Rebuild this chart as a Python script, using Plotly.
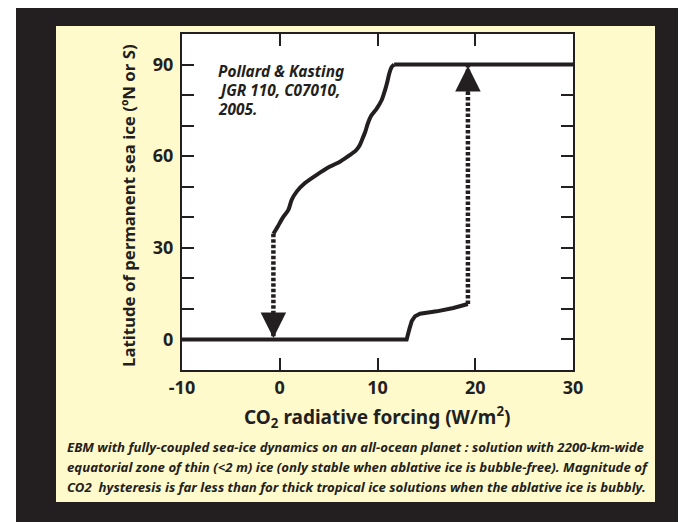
import plotly.graph_objects as go

# ---------------- data ----------------
upper_x = [-0.65, -0.2, 0.3, 0.88, 1.22, 1.73, 2.58, 3.78, 5.14, 6.16, 7.19, 7.8,
           8.15, 8.45, 8.75, 9.0, 9.35, 9.92, 10.43, 10.77, 11.0, 11.2, 11.45, 11.7, 30.0]
upper_y = [34.6, 37.0, 39.8, 42.4, 45.7, 48.4, 51.2, 53.9, 56.6, 58.2, 60.4, 61.9,
           63.4, 65.6, 68.0, 70.6, 73.2, 75.6, 78.4, 81.6, 84.3, 87.0, 89.2, 90.0, 90.0]

lower_x = [-10.0, 12.98, 13.25, 13.5, 13.84, 14.35, 16.05, 17.76, 19.25]
lower_y = [0.0, 0.0, 3.3, 6.0, 7.6, 8.4, 9.2, 10.3, 11.6]

drop_x = [-0.65, -0.65]      # freeze-over jump (downward)
drop_y = [34.6, 0.5]
rise_x = [19.25, 19.25]      # deglaciation jump (upward)
rise_y = [11.6, 89.5]

x_ticks = [-10, 0, 10, 20, 30]
x_ticklabels = ["-10", "0", "10", "20", "30"]
y_ticks = [0, 30, 60, 90]
y_ticklabels = ["0", "30", "60", "90"]
y_minor_step = 10

x_title = "CO<sub>2</sub> radiative forcing (W/m<sup>2</sup>)"
y_title = "Latitude of permanent sea ice (ºN or S)"
citation_lines = ["Pollard &amp; Kasting", "JGR 110, C07010,", "2005."]
caption_lines = [
    "EBM with fully-coupled sea-ice dynamics on an all-ocean planet : solution with 2200-km-wide",
    "equatorial zone of thin (&lt;2 m) ice (only stable when ablative ice is bubble-free). Magnitude of",
    "CO2  hysteresis is far less than for thick tropical ice solutions when the ablative ice is bubbly.",
]

# ---------------- style ----------------
OX, OY = 8, 8                 # page margin of the html body
W, H = 686 - OX, 522 - OY
L, R, T, B = 182, 573, 34, 370  # plot frame in window pixels
INK = "#231f20"
YELLOW = "#fffacc"
FONT = "Noto Sans"


def px(xp):
    return (xp - L) / (R - L)


def py(yp):
    return (B - yp) / (B - T)


fig = go.Figure()
fig.add_trace(go.Scatter(x=lower_x, y=lower_y, mode="lines",
                         line=dict(color=INK, width=4), hoverinfo="skip"))
# curved part of the upper (ice-covered) branch
fig.add_trace(go.Scatter(x=upper_x[:-1], y=upper_y[:-1], mode="lines",
                         line=dict(color=INK, width=4, shape="spline", smoothing=0.7),
                         hoverinfo="skip"))
# flat, ice-free part of the upper branch
fig.add_trace(go.Scatter(x=upper_x[-2:], y=upper_y[-2:], mode="lines",
                         line=dict(color=INK, width=4), hoverinfo="skip"))
for xs, ys in [(drop_x, drop_y), (rise_x, rise_y)]:
    fig.add_trace(go.Scatter(x=xs, y=ys, mode="lines",
                             line=dict(color=INK, width=4.5, dash="3.5px,2px"),
                             hoverinfo="skip"))

# arrow heads
for xs, ys in [(drop_x, drop_y), (rise_x, rise_y)]:
    direction = 1 if ys[-1] > ys[0] else -1
    fig.add_annotation(x=xs[-1], y=ys[-1], xref="x", yref="y", text="",
                       showarrow=True, arrowhead=2, arrowsize=1.7, arrowwidth=3,
                       arrowcolor=INK, ax=0, ay=28 * direction, standoff=0)

shapes = [
    dict(type="rect", xref="paper", yref="paper", x0=px(16), x1=px(720), y0=py(560), y1=py(-20),
         fillcolor=INK, line=dict(width=0), layer="below"),
    dict(type="rect", xref="paper", yref="paper", x0=px(56), x1=px(655), y0=py(502), y1=py(26),
         fillcolor=YELLOW, line=dict(width=0), layer="below"),
    dict(type="rect", xref="paper", yref="paper", x0=0, x1=1, y0=0, y1=1,
         fillcolor="white", line=dict(width=0), layer="below"),
]

annotations = []
annotations.append(dict(text=x_title, xref="paper", yref="paper", x=px(377), y=py(417),
                        xanchor="center", yanchor="middle", showarrow=False,
                        font=dict(family=FONT, size=19, color=INK, weight="bold")))
annotations.append(dict(text=y_title, xref="paper", yref="paper", x=px(128), y=py(206),
                        xanchor="center", yanchor="middle", showarrow=False, textangle=-90,
                        font=dict(family=FONT, size=16.8, color=INK, weight="bold")))
for i, line in enumerate(citation_lines):
    annotations.append(dict(text=line, xref="paper", yref="paper", x=px(216), y=py(71 + 19.5 * i),
                            xanchor="left", yanchor="middle", showarrow=False,
                            font=dict(family=FONT, size=15.4, color=INK, weight="bold",
                                      style="italic")))
for i, line in enumerate(caption_lines):
    annotations.append(dict(text=line, xref="paper", yref="paper", x=px(65), y=py(446.5 + 20 * i),
                            xanchor="left", yanchor="middle", showarrow=False,
                            font=dict(family=FONT, size=13.2, color=INK, weight="bold",
                                      style="italic")))

fig.update_layout(
    width=W, height=H,
    margin=dict(l=L - OX, r=W - (R - OX), t=T - OY, b=H - (B - OY), pad=0),
    paper_bgcolor="white", plot_bgcolor="white",
    showlegend=False,
    shapes=shapes, annotations=fig.layout.annotations + tuple(annotations),
    xaxis=dict(range=[-10, 30], tickmode="array", tickvals=x_ticks, ticktext=x_ticklabels,
               ticks="inside", ticklen=12, tickwidth=2, tickcolor=INK,
               showline=True, linecolor=INK, linewidth=2, mirror="ticks",
               showgrid=False, zeroline=False,
               tickfont=dict(family=FONT, size=18, color=INK, weight="bold")),
    yaxis=dict(range=[-10, 100], tickmode="array", tickvals=y_ticks, ticktext=y_ticklabels,
               ticks="inside", ticklen=12, tickwidth=2, tickcolor=INK,
               minor=dict(tickmode="linear", tick0=0, dtick=y_minor_step, ticks="inside",
                          ticklen=12, tickwidth=2, tickcolor=INK),
               showline=True, linecolor=INK, linewidth=2, mirror="ticks",
               showgrid=False, zeroline=False, ticklabelstandoff=3,
               tickfont=dict(family=FONT, size=18, color=INK, weight="bold")),
)

fig.write_html("out.html")
